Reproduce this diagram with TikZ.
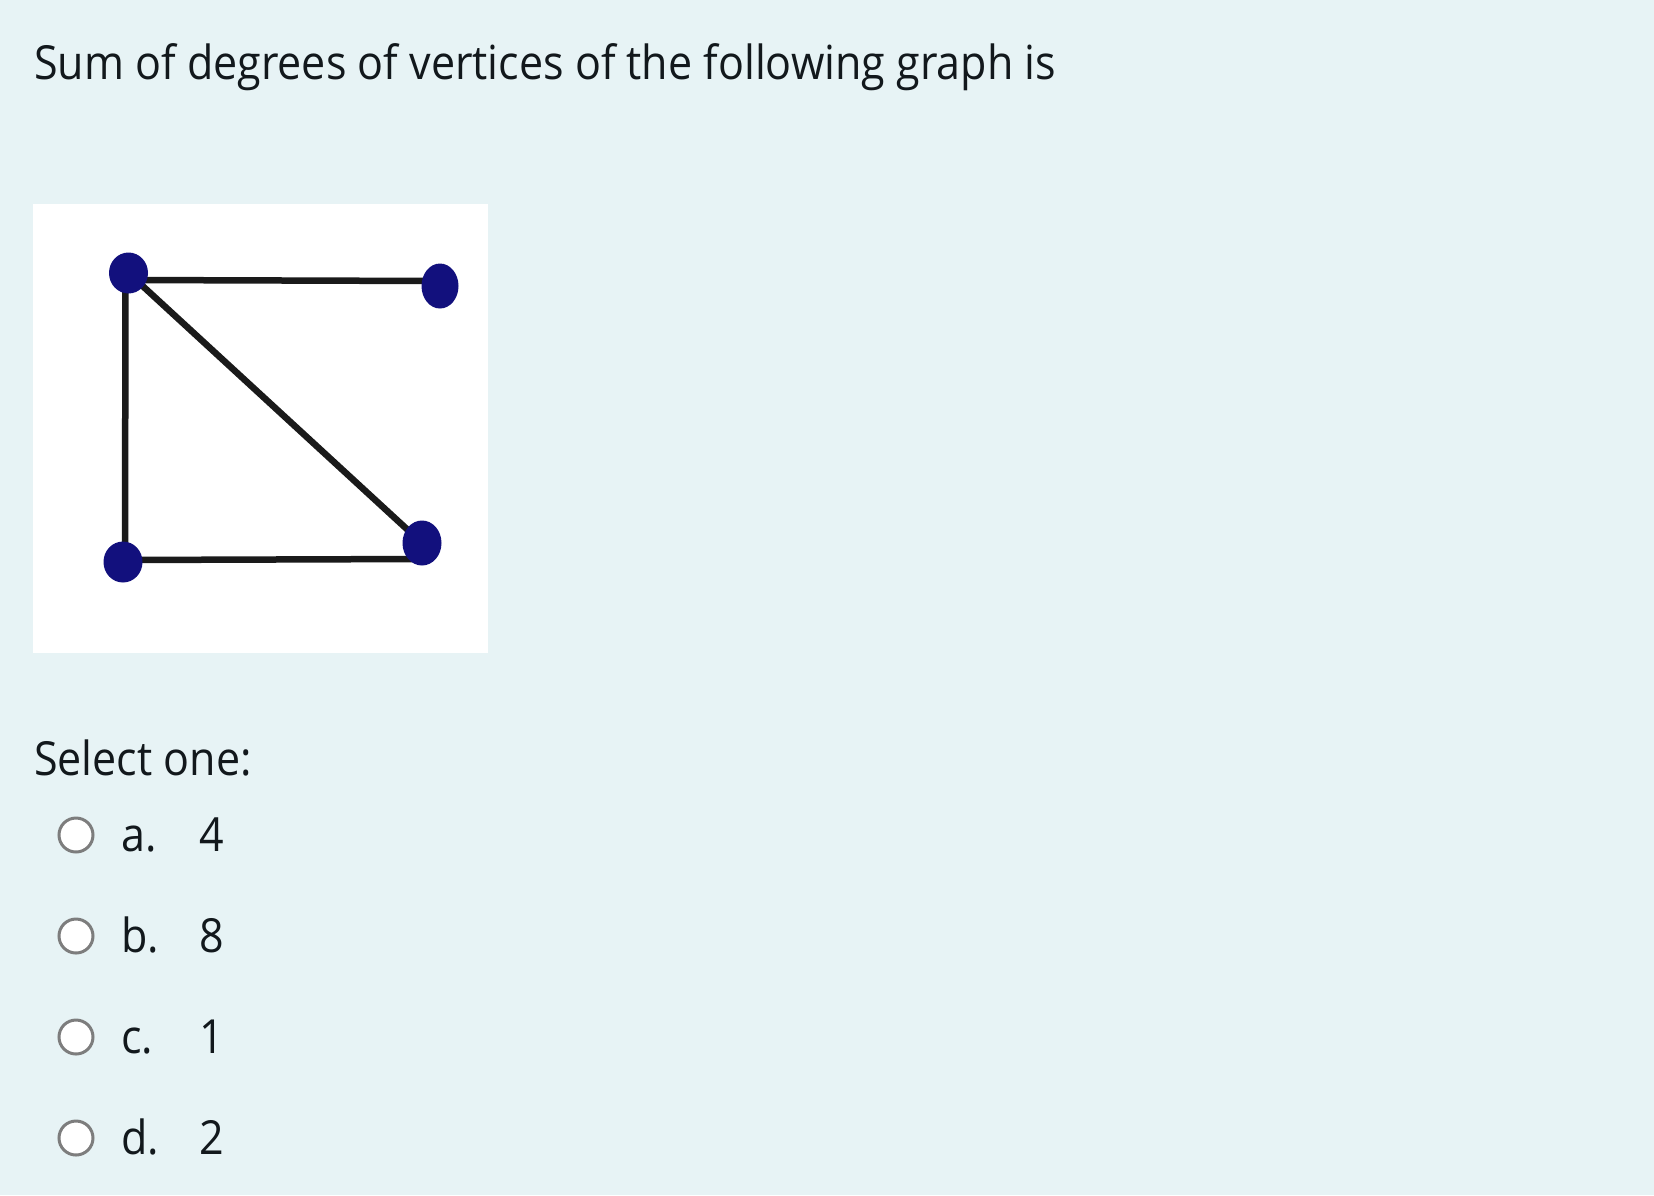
\documentclass[tikz,border=0pt]{standalone}
\usepackage{fontspec}
\setmainfont[FakeStretch=0.915]{Open Sans}
\usetikzlibrary{shapes.geometric,backgrounds}
\definecolor{pagebg}{RGB}{231,243,245}
\definecolor{dotblue}{RGB}{18,16,125}
\definecolor{edgeblack}{RGB}{26,26,26}
\definecolor{radiogray}{RGB}{125,125,125}
\definecolor{txt}{RGB}{18,24,28}
\tikzset{
  qtext/.style={anchor=base west, inner sep=0pt, text=txt, font=\fontsize{47}{56}\selectfont},
  vtx/.style={ellipse, fill=dotblue, inner sep=0pt, minimum width=39pt, minimum height=41pt},
  gedge/.style={draw=edgeblack, line width=6.5pt},
  radio/.style={circle, draw=radiogray, fill=white, line width=3pt, minimum size=34pt, inner sep=0pt},
}
\begin{document}
\begin{tikzpicture}[x=1pt,y=-1pt]
\useasboundingbox (0,0) rectangle (1654,1195);
\begin{scope}[on background layer]
\fill[pagebg] (0,0) rectangle (1654,1195);
\fill[white] (33,204) rectangle (488,653);
\end{scope}
\node[qtext] (title) at (34,79) {Sum of degrees of vertices of the following graph is};
% graph
\node[vtx] (tl) at (128.5,273) {};
\node[vtx, minimum width=37pt, minimum height=45pt] (tr) at (440,286) {};
\node[vtx] (bl) at (123,562) {};
\node[vtx, minimum height=45pt] (br) at (422,543) {};
\begin{scope}[on background layer]
\draw[gedge] ([yshift=-7pt]tl.center) -- ([yshift=5pt]tr.center);
\draw[gedge] ([xshift=-3pt]tl.center) -- ([xshift=2pt]bl.center);
\draw[gedge] (tl.center) -- (br.center);
\draw[gedge] ([yshift=2pt]bl.center) -- ([yshift=-16pt]br.center);
\end{scope}
\node[qtext] (select) at (34,775) {Select one:};
\foreach \n/\y/\l/\v in {a/835/a./4, b/936/b./8, c/1037/c./1, d/1138/d./2}{
  \node[radio] (r\n) at (76,\y) {};
  \node[qtext] (l\n) at (121,\y+16) {\l};
  \node[qtext] (v\n) at (199,\y+16) {\v};
}
\end{tikzpicture}
\end{document}
